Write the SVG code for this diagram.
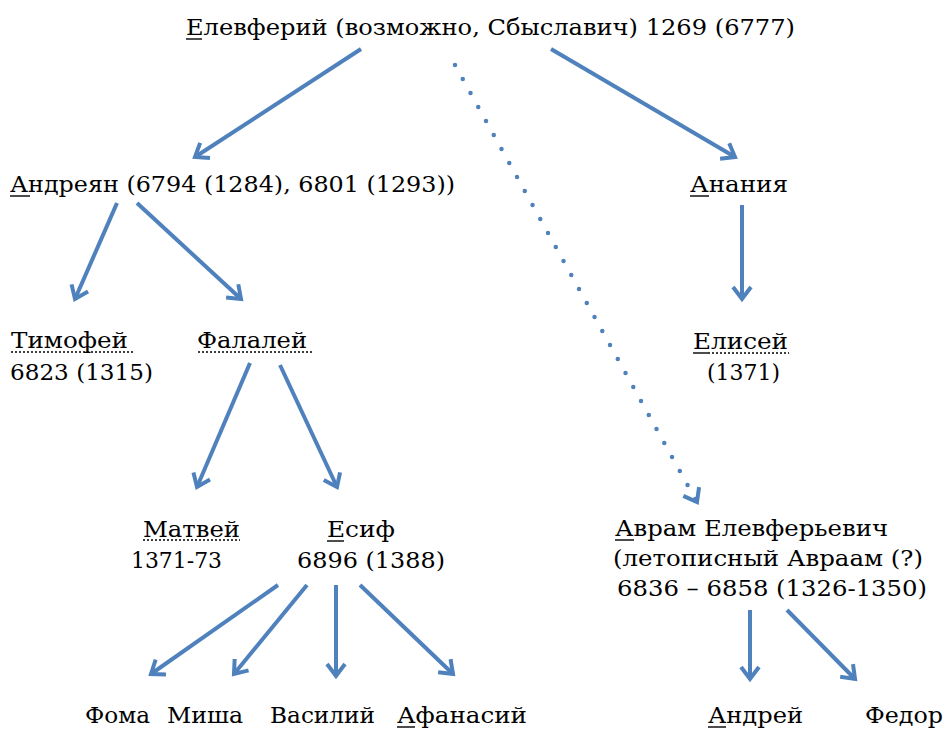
<svg xmlns="http://www.w3.org/2000/svg" width="949" height="730" viewBox="0 0 949 730">
<style>
text{font-family:"DejaVu Serif","Liberation Serif",serif;font-size:22px;fill:#000;}
.ul{stroke:#000;stroke-width:1.4;}
.dl{stroke:#000;stroke-width:1.4;stroke-dasharray:2 2;}
.c{stroke:#4F81BD;stroke-width:4;fill:none;marker-end:url(#ah);}
.d{stroke:#4F81BD;stroke-width:4.5;fill:none;stroke-dasharray:0 16;stroke-linecap:round;marker-end:url(#ah);}
</style>
<defs>
<marker id="ah" markerUnits="userSpaceOnUse" markerWidth="30" markerHeight="30" viewBox="-20 -15 30 30" refX="0" refY="0" orient="auto">
<path d="M-12,-9 L0,0 L-12,9" fill="none" stroke="#4F81BD" stroke-width="4" stroke-linejoin="miter" stroke-dasharray="none"/>
</marker>
</defs>
<rect width="949" height="730" fill="#fff"/>
<g id="connectors">
<line class="c" x1="361" y1="49" x2="195" y2="157"/>
<line class="c" x1="551" y1="49" x2="735" y2="157"/>
<line class="d" x1="455" y1="65" x2="697" y2="502"/>
<line class="c" x1="117" y1="203" x2="75" y2="299"/>
<line class="c" x1="137" y1="203" x2="241" y2="299"/>
<line class="c" x1="742" y1="205" x2="742" y2="299"/>
<line class="c" x1="250" y1="363" x2="197" y2="487"/>
<line class="c" x1="280" y1="365" x2="337" y2="487"/>
<line class="c" x1="278" y1="585" x2="151" y2="674"/>
<line class="c" x1="307" y1="585" x2="234" y2="674"/>
<line class="c" x1="336" y1="585" x2="336" y2="676"/>
<line class="c" x1="360" y1="585" x2="453" y2="674"/>
<line class="c" x1="750" y1="610" x2="750" y2="679"/>
<line class="c" x1="787" y1="610" x2="855" y2="679"/>
</g>
<g id="elevferiy">
<text x="186" y="35" textLength="609" lengthAdjust="spacingAndGlyphs">Елевферий (возможно, Сбыславич) 1269 (6777)</text>
<line class="ul" x1="186" y1="39" x2="202" y2="39"/>
</g>
<g id="andreyan">
<text x="10" y="192" textLength="445" lengthAdjust="spacingAndGlyphs">Андреян (6794 (1284), 6801 (1293))</text>
<line class="ul" x1="10" y1="196" x2="30" y2="196"/>
</g>
<g id="ananiya">
<text x="690" y="192" textLength="98" lengthAdjust="spacingAndGlyphs">Анания</text>
<line class="ul" x1="690" y1="196" x2="709" y2="196"/>
</g>
<g id="timofey">
<text x="11" y="348" textLength="117" lengthAdjust="spacingAndGlyphs">Тимофей</text>
<line class="dl" x1="11" y1="352" x2="134" y2="352"/>
<text x="10" y="380" textLength="143" lengthAdjust="spacingAndGlyphs">6823 (1315)</text>
</g>
<g id="falaley">
<text x="197" y="348" textLength="110" lengthAdjust="spacingAndGlyphs">Фалалей</text>
<line class="dl" x1="198" y1="352" x2="312" y2="352"/>
</g>
<g id="elisey">
<text x="693" y="349" textLength="95" lengthAdjust="spacingAndGlyphs">Елисей</text>
<line class="ul" x1="693" y1="353" x2="708" y2="353"/>
<line class="dl" x1="708" y1="353" x2="789" y2="353"/>
<text x="707" y="380" textLength="73" lengthAdjust="spacingAndGlyphs">(1371)</text>
</g>
<g id="matvey">
<text x="143" y="537" textLength="97" lengthAdjust="spacingAndGlyphs">Матвей</text>
<line class="dl" x1="143" y1="540" x2="240" y2="540"/>
<text x="131" y="568" textLength="91" lengthAdjust="spacingAndGlyphs">1371-73</text>
</g>
<g id="esif">
<text x="327" y="537" textLength="68" lengthAdjust="spacingAndGlyphs">Есиф</text>
<line class="ul" x1="327" y1="541" x2="344" y2="541"/>
<text x="297" y="568" textLength="148" lengthAdjust="spacingAndGlyphs">6896 (1388)</text>
</g>
<g id="avram">
<text x="615" y="536" textLength="273" lengthAdjust="spacingAndGlyphs">Аврам Елевферьевич</text>
<line class="ul" x1="615" y1="540" x2="634" y2="540"/>
<text x="613" y="566" textLength="310" lengthAdjust="spacingAndGlyphs">(летописный Авраам (?)</text>
<text x="617" y="596" textLength="310" lengthAdjust="spacingAndGlyphs">6836 – 6858 (1326-1350)</text>
</g>
<g id="foma"><text x="85" y="723" textLength="65" lengthAdjust="spacingAndGlyphs">Фома</text></g>
<g id="misha"><text x="167" y="723" textLength="76" lengthAdjust="spacingAndGlyphs">Миша</text></g>
<g id="vasiliy"><text x="270" y="723" textLength="105" lengthAdjust="spacingAndGlyphs">Василий</text></g>
<g id="afanasiy">
<text x="397" y="723" textLength="130" lengthAdjust="spacingAndGlyphs">Афанасий</text>
<line class="ul" x1="397" y1="727" x2="415" y2="727"/>
</g>
<g id="andrey">
<text x="708" y="723" textLength="95" lengthAdjust="spacingAndGlyphs">Андрей</text>
<line class="ul" x1="708" y1="727" x2="726" y2="727"/>
</g>
<g id="fedor"><text x="865" y="723" textLength="78" lengthAdjust="spacingAndGlyphs">Федор</text></g>
</svg>
